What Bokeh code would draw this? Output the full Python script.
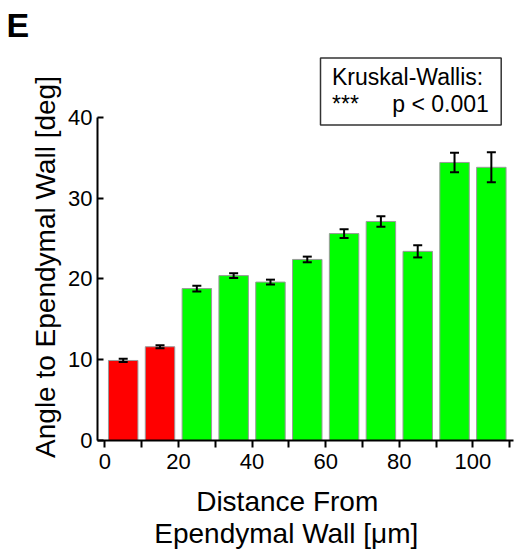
import math
from bokeh.plotting import figure
from bokeh.models import (Range1d, FixedTicker, Label, BoxAnnotation, Whisker,
                          TeeHead, ColumnDataSource)
from bokeh.embed import file_html
from bokeh.resources import INLINE

# ---- data ----
bin_centers = [5, 15, 25, 35, 45, 55, 65, 75, 85, 95, 105]
mean_angle = [9.9, 11.6, 18.8, 20.4, 19.6, 22.4, 25.6, 27.1, 23.4, 34.4, 33.8]
sem_angle = [0.2, 0.2, 0.35, 0.3, 0.3, 0.35, 0.55, 0.65, 0.75, 1.2, 1.85]
bar_colors = ["#ff0000", "#ff0000"] + ["#00ff00"] * 9
x_ticks = [0, 10, 20, 30, 40, 50, 60, 70, 80, 90, 100, 110]
x_tick_labels = ["0", "", "20", "", "40", "", "60", "", "80", "", "100", ""]
y_ticks = [0, 10, 20, 30, 40]

FONT = "Liberation Sans"

# ---- page geometry (pixels) ----
W, H = 515, 554
X0PX, XPPU = 104.3, 3.6814      # pixel of x=0, pixels per x unit
Y0PX, YPPU = 440.0, 8.0825      # pixel of y=0, pixels per y unit
BASE_K = 0.35                   # baseline correction (fraction of font size)


def dx(px):
    return (px - X0PX) / XPPU


def dy(py):
    return (Y0PX - py) / YPPU


src = ColumnDataSource(dict(
    x=bin_centers, top=mean_angle, color=bar_colors,
    upper=[m + s for m, s in zip(mean_angle, sem_angle)],
    lower=[m - s for m, s in zip(mean_angle, sem_angle)],
))

p = figure(width=W, height=H, output_backend="svg", toolbar_location=None,
           title=None, x_range=Range1d(dx(0), dx(W)), y_range=Range1d(dy(H), dy(0)),
           min_border=0)
p.outline_line_color = None
p.grid.visible = False
p.background_fill_color = "white"
p.border_fill_color = "white"

p.vbar(x="x", top="top", bottom=0, width=8, fill_color="color",
       line_color="#9a9a9a", line_width=1, source=src)

wh = Whisker(base="x", upper="upper", lower="lower", source=src,
             line_color="black", line_width=2, level="overlay",
             upper_head=TeeHead(size=9, line_width=2, line_color="black"),
             lower_head=TeeHead(size=9, line_width=2, line_color="black"))
p.add_layout(wh)

# axes, drawn inside the frame at fixed locations
xa = p.xaxis[0]
xa.fixed_location = 0
xa.bounds = (dx(97), dx(513))
xa.ticker = FixedTicker(ticks=x_ticks)
xa.major_label_overrides = {t: l for t, l in zip(x_ticks, x_tick_labels)}
xa.minor_tick_line_color = None
xa.major_tick_in = 0
xa.major_tick_out = 7
xa.major_tick_line_width = 2
xa.axis_line_width = 2
xa.major_label_standoff = 6
xa.major_label_text_font = FONT
xa.major_label_text_font_size = "22px"
xa.major_label_text_color = "black"

ya = p.yaxis[0]
ya.fixed_location = dx(97)
ya.ticker = FixedTicker(ticks=y_ticks)
ya.bounds = (0, 40)
ya.minor_tick_line_color = None
ya.major_tick_in = 6
ya.major_tick_out = 0
ya.major_tick_line_width = 2
ya.axis_line_width = 2
ya.major_label_standoff = 5
ya.major_label_text_font = FONT
ya.major_label_text_font_size = "22px"
ya.major_label_text_color = "black"


def lab(px, py, text, size, style="normal", rotated=False, **kw):
    shift = BASE_K * size
    if rotated:
        px, kw["angle"] = px - shift, math.pi / 2
    else:
        py = py - shift
    p.add_layout(Label(x=dx(px), y=dy(py), text=text, text_font=FONT,
                       text_font_size=f"{size}px", text_font_style=style,
                       text_color="black", text_baseline="alphabetic", **kw))


# axis titles and panel letter (px, py = baseline position in pixels)
lab(55, 266.5, "Angle to Ependymal Wall [deg]", 28, rotated=True,
    text_align="center")
lab(286.7, 511, "Distance From", 28, text_align="center")
lab(285.8, 543, "Ependymal Wall [\u03bcm]", 28, text_align="center")
lab(6, 36.7, "E", 34, style="bold", text_align="left")

# statistics box
p.add_layout(BoxAnnotation(left=dx(320), right=dx(500.7), top=dy(57.5),
                           bottom=dy(124.5), fill_color="white", fill_alpha=1.0,
                           line_color="#333333", line_alpha=1.0, line_width=1.5))
lab(331.5, 85, "Kruskal-Wallis:", 23, text_align="left")
lab(331.5, 111.7, "***", 23, text_align="left")
lab(488.3, 111.7, "p < 0.001", 23, text_align="right")

open("out.html", "w").write(file_html(p, INLINE))
